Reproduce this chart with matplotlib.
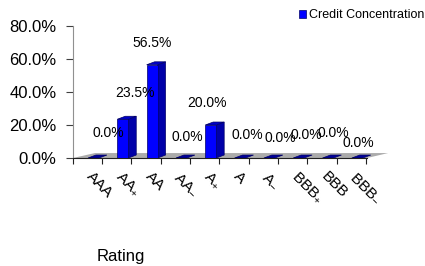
import matplotlib
matplotlib.use("Agg")
import matplotlib.pyplot as plt
from matplotlib.patches import Polygon
from matplotlib.transforms import ScaledTranslation, blended_transform_factory

plt.rcParams['font.family'] = ['Liberation Sans', 'DejaVu Sans']
plt.rcParams['mathtext.fontset'] = 'custom'
plt.rcParams['mathtext.rm'] = 'Liberation Sans'
plt.rcParams['mathtext.it'] = 'Liberation Sans:italic'
plt.rcParams['mathtext.default'] = 'regular'

categories = ["AAA", "AA+", "AA", "AA-", "A+", "A", "A-", "BBB+", "BBB", "BBB-"]
values = [0.0, 23.5, 56.5, 0.0, 20.0, 0.0, 0.0, 0.0, 0.0, 0.0]
yticks = [0, 20, 40, 60, 80]
series_name = "Credit Concentration"
xlabel = "Rating"

# label offsets in pixels (dx, dy) relative to bar top at tick position
label_offsets = [(6, 25), (4, 26), (-9, 22), (-3, 21), (-12, 22),
                 (-1, 23), (2, 20), (-1, 23), (-3, 25), (-8, 15)]


def fmt_cat(c):
    if c.endswith("+") or c.endswith("-"):
        return c[:-1] + "$_{" + c[-1] + "}$"
    return c


W, H = 425, 266
fig = plt.figure(figsize=(W / 100, H / 100), dpi=100)
ax = fig.add_axes([73 / W, (H - 158) / H, (372 - 73) / W, (158 - 26) / H])
ax.set_xlim(-0.99, 9.21)
ax.set_ylim(0, 80)

# floor
floor = Polygon([(-0.99, 0), (9.04, 0), (9.76, 3.0), (-0.24, 3.0)],
                closed=True, facecolor="#ababab", edgecolor="none", zorder=1, clip_on=False)
ax.add_patch(floor)

off = -0.29
width = 0.375
ddx = 0.27
ddy = 1.8
idx = list(range(len(categories)))
front_x = [i + off for i in idx]
bars = ax.bar(front_x, values, width=width, color="#0000ff", edgecolor="#000066",
              linewidth=0.5, zorder=3, label=series_name)
for i, v in zip(idx, values):
    xl = i + off - width / 2
    xr = i + off + width / 2
    if v > 0:
        side = Polygon([(xr, 0), (xr + ddx, ddy), (xr + ddx, v + ddy), (xr, v)],
                       closed=True, facecolor="#0000a8", edgecolor="#000066", linewidth=0.5, zorder=2)
        ax.add_patch(side)
    top = Polygon([(xl, v), (xr, v), (xr + ddx, v + ddy), (xl + ddx, v + ddy)],
                  closed=True, facecolor="#0000c8" if v > 0 else "#000099",
                  edgecolor="#000066", linewidth=0.5, zorder=4)
    ax.add_patch(top)

for i, v, (dx, dy) in zip(idx, values, label_offsets):
    ax.annotate(f"{v:.1f}%", xy=(i, v), xytext=(dx, dy), textcoords="offset pixels",
                ha="center", va="center", fontsize=10, zorder=6, annotation_clip=False)

ax.set_yticks(yticks)
ax.set_yticklabels([f"{t:.1f}%" for t in yticks], fontsize=12)
ax.set_xticks([-0.99] + idx)
ax.set_xticklabels([])

trans = blended_transform_factory(ax.transData, ax.transAxes) + \
    ScaledTranslation(-13 / 100, -16 / 100, fig.dpi_scale_trans)
for i, c in zip(idx, categories):
    ax.text(i, 0, fmt_cat(c), transform=trans, rotation=-45, ha="left", va="center",
            rotation_mode="anchor", fontsize=11, clip_on=False)

ax.tick_params(axis="y", length=5, width=0.8, color="#404040", pad=7)
ax.tick_params(axis="x", length=4, width=0.8, color="#202020", pad=2)
for s in ["top", "right"]:
    ax.spines[s].set_visible(False)
ax.spines["left"].set_color("#909090")
ax.spines["left"].set_linewidth(0.8)
ax.spines["bottom"].set_color("#202020")
ax.spines["bottom"].set_linewidth(0.8)
ax.spines["bottom"].set_bounds(-0.99, 9.04)
ax.patch.set_alpha(0)

fig.legend(handles=[bars], labels=[series_name], loc="upper right",
           bbox_to_anchor=(424 / W, 1 - 9 / H),
           frameon=False, fontsize=9, handlelength=0.6, handleheight=0.6, handletextpad=0.2,
           borderaxespad=0, borderpad=0)

fig.text(121 / W, 1 - 257 / H, xlabel, ha="center", va="center", fontsize=12)

fig.savefig("out.png", dpi=100)
